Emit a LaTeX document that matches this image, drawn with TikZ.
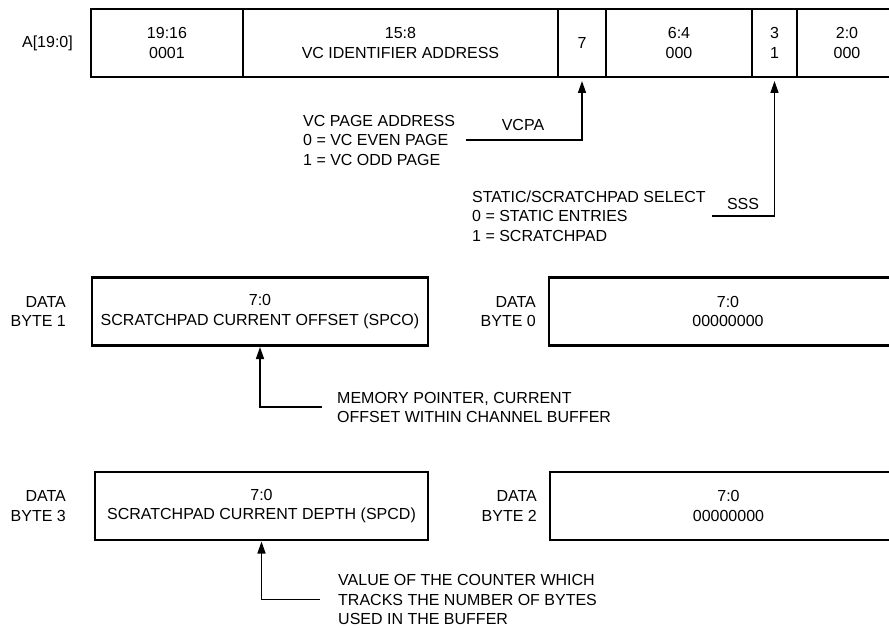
\documentclass[tikz,border=0pt]{standalone}
\usepackage{fontspec}
\setmainfont{Liberation Sans}
\usetikzlibrary{arrows.meta, positioning}

\begin{document}
\begin{tikzpicture}[
    x=1pt, y=-1pt,
    >={Triangle[length=12pt,width=8pt]},
    font=\fontsize{16}{19.5}\selectfont,
    field/.style={rectangle, draw=black, line width=2.8pt, inner sep=0pt, outer sep=0pt, minimum height=68pt, align=center},
    regbox/.style={rectangle, draw=black, line width=2.8pt, inner sep=0pt, outer sep=0pt, minimum height=68pt, align=center},
    lbl/.style={align=right, inner sep=0pt},
    note/.style={align=left, inner sep=0pt},
    arrow/.style={->, line width=1.5pt, draw=black}
]
\useasboundingbox (0,0) rectangle (889,628);

% ADDRESS REGISTER
\node[field, minimum width=152pt] (f1916) at (167,43) {19:16\\0001};
\node[field, minimum width=315pt, right=0pt of f1916] (vcid) {15:8\\VC IDENTIFIER ADDRESS};
\node[field, minimum width=48pt, right=0pt of vcid] (f7) {7};
\node[field, minimum width=146pt, right=0pt of f7] (f64) {6:4\\000};
\node[field, minimum width=45pt, right=0pt of f64] (f3) {3\\1};
\node[field, minimum width=100pt, right=0pt of f3] (f20) {2:0\\000};
\node[lbl, left=18pt of f1916] (addr) {A[19:0]};

% VC PAGE ADDRESS
\node[note, anchor=west] (vcpa_note) at (303,140) {VC PAGE ADDRESS\\0 = VC EVEN PAGE\\1 = VC ODD PAGE};
\coordinate (vcpa_start) at (466,140);
\node (vcpa_lbl) at (523,125) {VCPA};
\draw[arrow, shorten >=4pt] (vcpa_start) -| (f7.south);

% STATIC/SCRATCHPAD SELECT
\node[note, anchor=west] (sss_note) at (472,216) {STATIC/SCRATCHPAD SELECT\\0 = STATIC ENTRIES\\1 = SCRATCHPAD};
\coordinate (sss_start) at (712,216);
\node (sss_lbl) at (743,204) {SSS};
\draw[arrow, shorten >=4pt] (sss_start) -| (f3.south);

% DATA BYTE 1 / 0
\node[regbox, minimum width=336pt] (spco) at (260,311.5) {7:0\\SCRATCHPAD CURRENT OFFSET (SPCO)};
\node[lbl, left=26pt of spco] (db1) {DATA\\BYTE 1};
\node[regbox, minimum width=358pt] (byte0) at (728,311.5) {7:0\\00000000};
\node[lbl, left=13pt of byte0] (db0) {DATA\\BYTE 0};
\node[note, anchor=west] (spco_note) at (337,407.5) {MEMORY POINTER, CURRENT\\OFFSET WITHIN CHANNEL BUFFER};
\coordinate (spco_start) at (322,407);
\draw[arrow, shorten >=1.5pt] (spco_start) -| (spco.south);

% DATA BYTE 3 / 2
\node[regbox, minimum width=333pt] (spcd) at (261.5,506) {7:0\\SCRATCHPAD CURRENT DEPTH (SPCD)};
\node[lbl, left=29pt of spcd] (db3) {DATA\\BYTE 3};
\node[regbox, minimum width=357pt] (byte2) at (728.5,506) {7:0\\00000000};
\node[lbl, left=13pt of byte2] (db2) {DATA\\BYTE 2};
\node[note, anchor=west] (spcd_note) at (338,599.5) {VALUE OF THE COUNTER WHICH\\TRACKS THE NUMBER OF BYTES\\USED IN THE BUFFER};
\coordinate (spcd_start) at (320,599.5);
\draw[arrow, shorten >=1.5pt] (spcd_start) -| (spcd.south);

\end{tikzpicture}
\end{document}
